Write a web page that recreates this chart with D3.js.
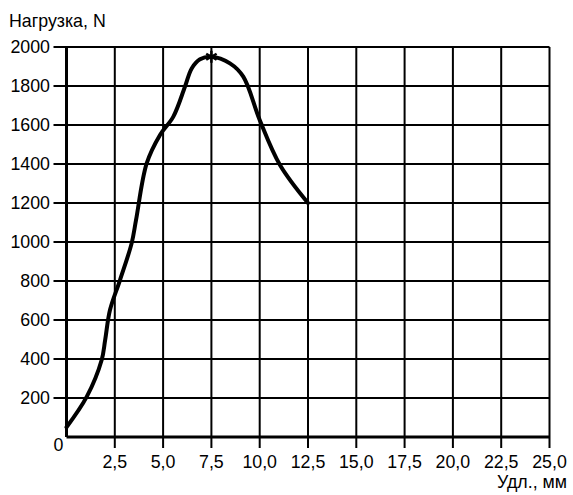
<!DOCTYPE html>
<html>
<head>
<meta charset="utf-8">
<script src="https://cdn.jsdelivr.net/npm/d3@7"></script>
<style>
  body { margin: 0; background: #fff; }
  text { font-family: "Liberation Sans", Arial, sans-serif; fill: #000; }
</style>
</head>
<body>
<script>
// curve data
var elongation = [0, 1.05, 1.82, 2.0, 2.25, 2.77, 3.37, 3.6, 4.15, 4.84, 5.53, 6.13, 6.48, 6.91, 7.5, 8.46, 9.15, 10.0, 11.05, 12.5];
var load = [50, 207, 395, 497, 651, 805, 993, 1113, 1403, 1549, 1643, 1796, 1890, 1937, 1950, 1916, 1848, 1626, 1395, 1200];
var peak = [7.5, 1950];

var xTicks = [2.5, 5, 7.5, 10, 12.5, 15, 17.5, 20, 22.5, 25];
var yTicks = [200, 400, 600, 800, 1000, 1200, 1400, 1600, 1800, 2000];

var width = 573, height = 495,
    fontSize = 17.8;

var x = d3.scaleLinear().domain([0, 25]).range([66.5, 549.5]),
    y = d3.scaleLinear().domain([0, 2000]).range([437, 47]);

var svg = d3.select("body").append("svg")
    .attr("width", width)
    .attr("height", height);

// grid
svg.append("g").selectAll("line.v")
    .data(xTicks)
    .enter().append("line")
    .attr("x1", function(d) { return x(d); })
    .attr("x2", function(d) { return x(d); })
    .attr("y1", y(2000))
    .attr("y2", y(0) + 11)
    .attr("stroke", "#000")
    .attr("stroke-width", 2);

svg.append("g").selectAll("line.h")
    .data(yTicks)
    .enter().append("line")
    .attr("x1", x(0) - 13)
    .attr("x2", x(25))
    .attr("y1", function(d) { return y(d); })
    .attr("y2", function(d) { return y(d); })
    .attr("stroke", "#000")
    .attr("stroke-width", 2);

// axes lines
svg.append("line")
    .attr("x1", x(0)).attr("x2", x(0))
    .attr("y1", y(2000)).attr("y2", y(0))
    .attr("stroke", "#000").attr("stroke-width", 3);
svg.append("line")
    .attr("x1", x(0)).attr("x2", x(25))
    .attr("y1", y(0)).attr("y2", y(0))
    .attr("stroke", "#000").attr("stroke-width", 3);

// tick labels
var fmt = function(d) { return d.toFixed(1).replace(".", ","); };

svg.append("g").selectAll("text")
    .data(xTicks)
    .enter().append("text")
    .attr("x", function(d) { return x(d); })
    .attr("y", 468)
    .attr("text-anchor", "middle")
    .attr("font-size", fontSize)
    .text(fmt);

svg.append("g").selectAll("text")
    .data(yTicks)
    .enter().append("text")
    .attr("x", 50)
    .attr("y", function(d) { return y(d); })
    .attr("dy", "0.35em")
    .attr("text-anchor", "end")
    .attr("font-size", fontSize)
    .text(function(d) { return d; });

svg.append("text")
    .attr("x", x(0) - 8)
    .attr("y", y(0) + 14)
    .attr("text-anchor", "middle")
    .attr("font-size", fontSize)
    .text("0");

// axis titles
svg.append("text")
    .attr("x", 9)
    .attr("y", 27)
    .attr("font-size", fontSize)
    .text("Нагрузка, N");

svg.append("text")
    .attr("x", 567)
    .attr("y", 488)
    .attr("text-anchor", "end")
    .attr("font-size", fontSize)
    .text("Удл., мм");

// curve
var line = d3.line()
    .x(function(d, i) { return x(elongation[i]); })
    .y(function(d) { return y(d); })
    .curve(d3.curveCatmullRom.alpha(0.5));

svg.append("path")
    .datum(load)
    .attr("fill", "none")
    .attr("stroke", "#000")
    .attr("stroke-width", 4)
    .attr("stroke-linecap", "round")
    .attr("d", line);

// peak asterisk
var px = x(peak[0]), py = y(peak[1]), r = 6;
[90, 30, -30].forEach(function(a) {
    var rad = a * Math.PI / 180;
    svg.append("line")
        .attr("x1", px - r * Math.cos(rad)).attr("y1", py - r * Math.sin(rad))
        .attr("x2", px + r * Math.cos(rad)).attr("y2", py + r * Math.sin(rad))
        .attr("stroke", "#000").attr("stroke-width", 2.5);
});
</script>
</body>
</html>
